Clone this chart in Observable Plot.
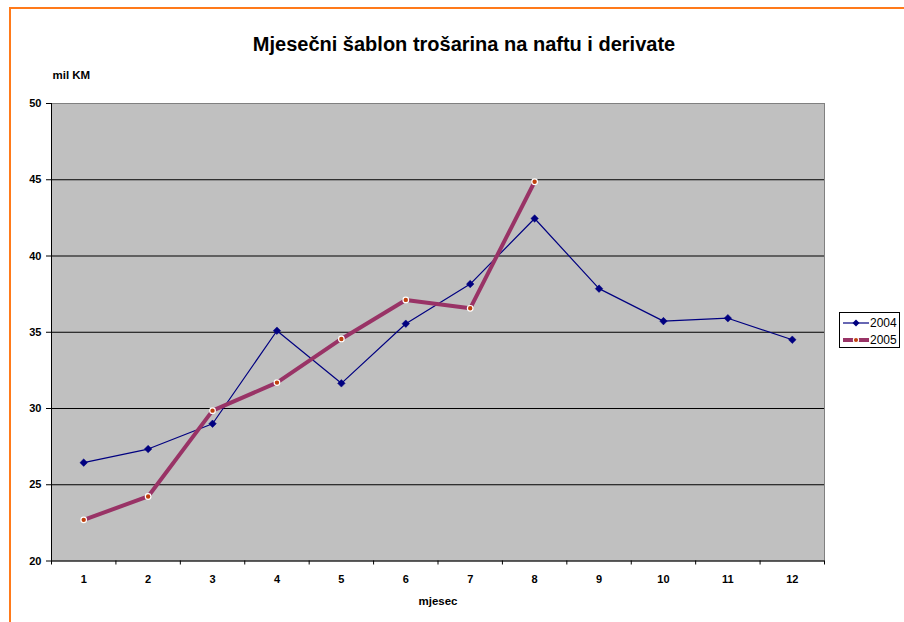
<!DOCTYPE html>
<html>
<head>
<meta charset="utf-8">
<script src="https://cdn.jsdelivr.net/npm/d3@7"></script>
<script src="https://cdn.jsdelivr.net/npm/@observablehq/plot@0.6"></script>
<style>
  html, body { margin: 0; padding: 0; background: #fff; overflow: hidden; }
  #wrap { position: relative; width: 904px; height: 622px; overflow: hidden; font-family: "Liberation Sans", Arial, sans-serif; }
  #border { position: absolute; left: 9px; top: 7px; width: 1000px; height: 1000px; border: 2px solid #FF7A1A; box-sizing: border-box; pointer-events: none; }
  #legend { position: absolute; left: 839px; top: 312px; width: 61px; height: 36px; border: 1px solid #000; background: #fff; box-sizing: border-box; font-size: 12px; }
  #legend .row { position: absolute; left: 3px; height: 14px; display: flex; align-items: center; }
  #legend svg { display: block; }
  #legend span { margin-left: 1px; }
</style>
</head>
<body>
<div id="wrap">
  <div id="chart"></div>
  <div id="legend"></div>
  <div id="border"></div>
</div>
<script>
const title = "Mjesečni šablon trošarina na naftu i derivate";
const yLabel = "mil KM";
const xLabel = "mjesec";
const months = [1, 2, 3, 4, 5, 6, 7, 8, 9, 10, 11, 12];
const series2004 = [26.45, 27.34, 29.0, 35.1, 31.65, 35.56, 38.16, 42.46, 37.86, 35.73, 35.92, 34.51];
const series2005 = [22.70, 24.23, 29.86, 31.7, 34.56, 37.12, 36.57, 44.87];
const seriesNames = ["2004", "2005"];
const yTicks = [20, 25, 30, 35, 40, 45, 50];
const gridLines = [25, 30, 35, 40, 45];

const d2004 = series2004.map((v, i) => ({month: months[i], value: v}));
const d2005 = series2005.map((v, i) => ({month: months[i], value: v}));
const boundaries = months.map(m => m - 0.5).concat([months[months.length - 1] + 0.5]);

const c2004 = "#000080";
const c2005 = "#993366";
const dot2005 = "#C0400C";

const chart = Plot.plot({
  width: 904,
  height: 622,
  marginLeft: 51,
  marginRight: 80,
  marginTop: 103,
  marginBottom: 61.5,
  style: {fontFamily: "'Liberation Sans', Arial, sans-serif", background: "transparent", color: "#000"},
  x: {domain: [0.5, 12.5]},
  y: {domain: [20, 50]},
  marks: [
    Plot.frame({fill: "#C0C0C0", stroke: "#808080", strokeWidth: 1}),
    Plot.ruleY(gridLines, {stroke: "#000", strokeWidth: 1}),
    Plot.ruleX([0.5], {stroke: "#000", strokeWidth: 1}),
    Plot.ruleY([20], {stroke: "#000", strokeWidth: 1}),
    Plot.axisY({ticks: yTicks, tickSize: 5, tickPadding: 5, fontSize: 11, fontWeight: "bold", label: null, tickFormat: d => String(d)}),
    Plot.axisX({ticks: boundaries, tickSize: 4, tickFormat: () => "", label: null}),
    Plot.axisX({ticks: months, tickSize: 0, tickPadding: 14.5, fontSize: 11, fontWeight: "bold", label: null, tickFormat: d => String(d)}),
    Plot.line(d2004, {x: "month", y: "value", stroke: c2004, strokeWidth: 1.2}),
    Plot.dot(d2004, {x: "month", y: "value", symbol: "diamond2", r: 3.4, fill: c2004, stroke: c2004, strokeWidth: 0.5}),
    Plot.line(d2005, {x: "month", y: "value", stroke: c2005, strokeWidth: 4}),
    Plot.dot(d2005, {x: "month", y: "value", r: 2.8, fill: dot2005, stroke: "#fff", strokeWidth: 1.2}),
    Plot.text([title], {frameAnchor: "top", lineAnchor: "middle", dx: 26, dy: -58.5, fontSize: 20, fontWeight: "bold", text: d => d}),
    Plot.text([yLabel], {frameAnchor: "top-left", lineAnchor: "middle", textAnchor: "start", dx: 1, dy: -28, fontSize: 11.5, fontWeight: "bold", text: d => d}),
    Plot.text([xLabel], {frameAnchor: "bottom", lineAnchor: "middle", dy: 40, fontSize: 11.5, fontWeight: "bold", text: d => d})
  ]
});
document.getElementById("chart").appendChild(chart);

// legend
const legend = document.getElementById("legend");
const styles = [
  {color: c2004, width: 1.2, marker: `<path d="M13,1.5 L16.5,5 L13,8.5 L9.5,5 Z" fill="${c2004}"/>`},
  {color: c2005, width: 4, marker: `<circle cx="13" cy="5" r="2.6" fill="${dot2005}" stroke="#fff" stroke-width="1.1"/>`}
];
seriesNames.forEach((name, i) => {
  const row = document.createElement("div");
  row.className = "row";
  row.style.top = (i === 0 ? 3 : 20) + "px";
  const s = styles[i];
  row.innerHTML = `<svg width="26" height="10"><line x1="0" x2="26" y1="5" y2="5" stroke="${s.color}" stroke-width="${s.width}"/>${s.marker}</svg><span>${name}</span>`;
  legend.appendChild(row);
});
</script>
</body>
</html>
